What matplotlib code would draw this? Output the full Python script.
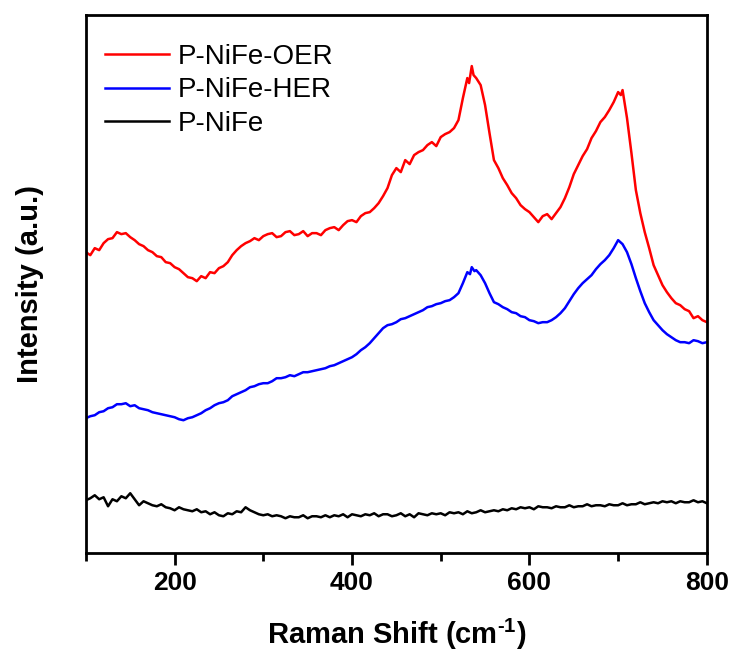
import matplotlib
matplotlib.use("Agg")
import matplotlib.pyplot as plt
from matplotlib.ticker import MultipleLocator

# Raman shift (cm^-1) and intensities (a.u.)
x_oer = [100,105,110,115,120,125,130,135,140,145,150,155,160,165,170,175,180,185,190,195,
         200,205,210,215,220,225,230,235,240,245,250,255,260,265,270,275,280,285,290,295,
         300,305,310,315,320,325,330,335,340,345,350,355,360,365,370,375,380,385,390,395,
         400,405,410,415,420,425,430,435,440,445,450,455,460,465,470,475,480,485,490,495,
         500,505,510,515,520,525,530,532,535,537,540,545,550,555,560,565,570,575,580,585,
         590,595,600,605,610,615,620,625,630,635,640,645,650,655,660,665,670,675,680,685,
         690,695,700,703,705,710,715,720,725,730,735,740,745,750,755,760,765,770,775,780,
         785,790,795,800]
y_oer = [301,298,305,303,310,314,315,321,319,320,316,313,309,307,303,301,297,296,291,290,
         286,284,280,276,275,272,277,275,281,280,285,287,291,298,303,307,310,312,315,313,
         317,319,320,316,317,321,322,318,319,322,317,320,320,318,323,325,326,323,328,332,
         333,331,337,340,341,345,350,357,365,378,385,381,393,389,398,401,403,408,411,407,
         416,419,421,425,433,455,475,470,487,478,475,468,448,420,393,385,375,368,360,355,
         348,344,341,336,331,337,339,334,340,346,355,366,379,388,397,404,415,422,431,436,
         443,451,461,458,463,435,400,363,340,321,305,288,278,268,261,255,250,248,244,242,
         235,237,233,231]

x_her = [100,105,110,115,120,125,130,135,140,145,150,155,160,165,170,175,180,185,190,195,
         200,205,210,215,220,225,230,235,240,245,250,255,260,265,270,275,280,285,290,295,
         300,305,310,315,320,325,330,335,340,345,350,355,360,365,370,375,380,385,390,395,
         400,405,410,415,420,425,430,435,440,445,450,455,460,465,470,475,480,485,490,495,
         500,505,510,515,520,525,530,533,535,538,540,545,550,555,560,565,570,575,580,585,
         590,595,600,605,610,615,620,625,630,635,640,645,650,655,660,665,670,675,680,685,
         690,695,700,705,710,715,720,725,730,735,740,745,750,755,760,765,770,775,780,785,
         790,795,800]
y_her = [135,137,138,141,142,145,146,149,149,150,147,148,145,144,143,141,140,139,138,137,
         136,134,133,135,136,138,140,143,145,148,150,151,153,157,159,161,163,166,167,169,
         170,170,172,175,175,176,178,177,179,181,181,182,183,184,185,187,188,190,192,194,
         196,199,203,206,210,215,220,225,228,229,231,234,235,237,239,241,243,246,247,249,
         250,252,253,256,260,270,281,279,286,282,283,278,270,260,251,249,246,244,241,240,
         237,236,233,232,230,231,231,233,236,240,245,252,259,265,270,274,278,284,289,293,
         298,305,313,309,301,289,275,262,250,241,233,228,223,219,216,213,211,211,210,213,
         212,210,211]

x_nife = [100,105,110,115,120,125,130,135,140,145,150,155,160,165,170,175,180,185,190,195,
          200,205,210,215,220,225,230,235,240,245,250,255,260,265,270,275,280,285,290,295,
          300,305,310,315,320,325,330,335,340,345,350,355,360,365,370,375,380,385,390,395,
          400,405,410,415,420,425,430,435,440,445,450,455,460,465,470,475,480,485,490,495,
          500,505,510,515,520,525,530,535,540,545,550,555,560,565,570,575,580,585,590,595,
          600,605,610,615,620,625,630,635,640,645,650,655,660,665,670,675,680,685,690,695,
          700,705,710,715,720,725,730,735,740,745,750,755,760,765,770,775,780,785,790,795,
          800]
y_nife = [53,55,58,54,56,47,54,52,57,55,60,54,48,52,50,48,47,49,46,45,
          43,46,44,43,42,44,41,42,39,41,38,37,40,39,42,41,46,43,41,39,
          38,39,37,38,37,35,37,36,36,38,35,37,37,36,38,36,38,37,39,36,
          39,38,37,39,38,40,37,39,39,37,38,40,37,39,36,40,39,38,40,39,
          40,38,41,40,41,39,42,40,41,43,41,42,43,42,44,43,45,44,46,45,
          46,44,47,46,46,45,47,46,46,48,46,47,47,49,47,48,48,47,49,48,
          48,50,48,49,49,51,49,50,51,50,52,51,52,50,52,51,51,53,51,52,
          50]

labels = ["P-NiFe-OER", "P-NiFe-HER", "P-NiFe"]
colors = ["#ff0000", "#0000ff", "#000000"]

plt.rcParams['font.family'] = ['Liberation Sans', 'DejaVu Sans']
plt.rcParams['mathtext.fontset'] = 'custom'
plt.rcParams['mathtext.rm'] = 'Liberation Sans:bold'
plt.rcParams['mathtext.bf'] = 'Liberation Sans:bold'
plt.rcParams['mathtext.it'] = 'Liberation Sans:bold'

fig = plt.figure(figsize=(7.34, 6.54), dpi=100)
ax = fig.add_axes([0.117, 0.154, 0.846, 0.823])

for xs, ys, lab, c in zip([x_oer, x_her, x_nife], [y_oer, y_her, y_nife], labels, colors):
    ax.plot(xs, ys, color=c, lw=1.8, label=lab)

ax.set_xlim(100, 800)
ax.set_ylim(0, 538)
ax.xaxis.set_major_locator(MultipleLocator(200))
ax.xaxis.set_minor_locator(MultipleLocator(100))
ax.set_yticks([])
ax.tick_params(axis='x', which='major', direction='out', length=8.5, width=2,
               labelsize=19, pad=4)
ax.tick_params(axis='x', which='minor', direction='out', length=5.5, width=2)
for lbl in ax.get_xticklabels():
    lbl.set_fontweight('bold')
for s in ax.spines.values():
    s.set_linewidth(2)

ax.set_xlabel(r"Raman Shift (cm$^{\mathrm{\text{-}1}}$)", fontsize=21, fontweight='bold', labelpad=16)
ax.set_ylabel("Intensity (a.u.)", fontsize=21, fontweight='bold', labelpad=30)

leg = ax.legend(loc='upper left', frameon=False, fontsize=20, handlelength=2.3,
                handletextpad=0.3, labelspacing=0.28, borderaxespad=0.3,
                bbox_to_anchor=(0.0, 0.983))

fig.savefig("out.png", dpi=100)
